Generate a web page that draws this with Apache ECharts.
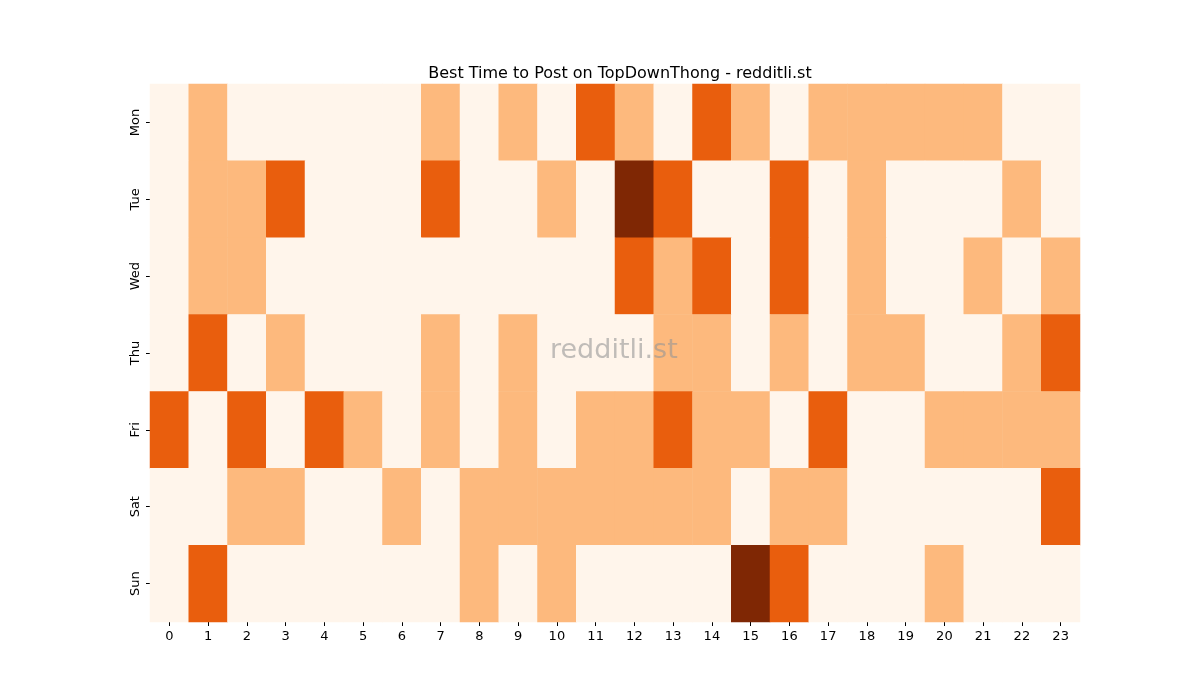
<!DOCTYPE html>
<html><head><meta charset="utf-8">
<script src="https://cdn.jsdelivr.net/npm/echarts@6/dist/echarts.min.js"></script>
<style>html,body{margin:0;background:#fff}#c{width:1200px;height:700px}</style>
</head><body><div id="c"></div>
<script>
const hours = ['0','1','2','3','4','5','6','7','8','9','10','11','12','13','14','15','16','17','18','19','20','21','22','23'];
const days = ['Mon','Tue','Wed','Thu','Fri','Sat','Sun'];
const Mon = [0,1,0,0,0,0,0,1,0,1,0,2,1,0,2,1,0,1,1,1,1,1,0,0];
const Tue = [0,1,1,2,0,0,0,2,0,0,1,0,3,2,0,0,2,0,1,0,0,0,1,0];
const Wed = [0,1,1,0,0,0,0,0,0,0,0,0,2,1,2,0,2,0,1,0,0,1,0,1];
const Thu = [0,2,0,1,0,0,0,1,0,1,0,0,0,1,1,0,1,0,1,1,0,0,1,2];
const Fri = [2,0,2,0,2,1,0,1,0,1,0,1,1,2,1,1,0,2,0,0,1,1,1,1];
const Sat = [0,0,1,1,0,0,1,0,1,1,1,1,1,1,1,0,1,1,0,0,0,0,0,2];
const Sun = [0,2,0,0,0,0,0,0,1,0,1,0,0,0,0,3,2,0,0,0,1,0,0,0];
const rows = [Mon,Tue,Wed,Thu,Fri,Sat,Sun];
const data = [];
rows.forEach((r,yi)=>r.forEach((v,xi)=>data.push([xi,yi,v])));
const chart = echarts.init(document.getElementById('c'));
const axisCommon = {axisLine:{show:false},splitLine:{show:false},splitArea:{show:false},
  axisTick:{show:true,alignWithLabel:true,length:4,lineStyle:{color:'#000'}},
  axisLabel:{color:'#000',fontSize:13,fontFamily:'DejaVu Sans'}};
chart.setOption({
  animation:false,
  title:{text:'Best Time to Post on TopDownThong - redditli.st',left:615,top:61,textAlign:'center',
    textStyle:{fontSize:16,fontWeight:'normal',color:'#000',fontFamily:'DejaVu Sans'}},
  grid:{left:150,right:120,top:84,bottom:78},
  xAxis:Object.assign({type:'category',data:hours},axisCommon),
  yAxis:Object.assign({type:'category',data:days,inverse:true},axisCommon,
    {axisLabel:{color:'#000',fontSize:13,rotate:90,fontFamily:'DejaVu Sans'}}),
  visualMap:{show:false,type:'piecewise',dimension:2,
    pieces:[{value:0,color:'#fff5eb'},{value:1,color:'#fdb97d'},{value:2,color:'#e95e0d'},{value:3,color:'#7f2704'}]},
  series:[{type:'heatmap',data:data,itemStyle:{borderWidth:0}}],
  graphic:[{type:'text',left:550,top:337,style:{text:'redditli.st',fontSize:27,fill:'rgba(150,150,150,0.6)',fontFamily:'DejaVu Sans'},z:100}]
});
</script></body></html>
